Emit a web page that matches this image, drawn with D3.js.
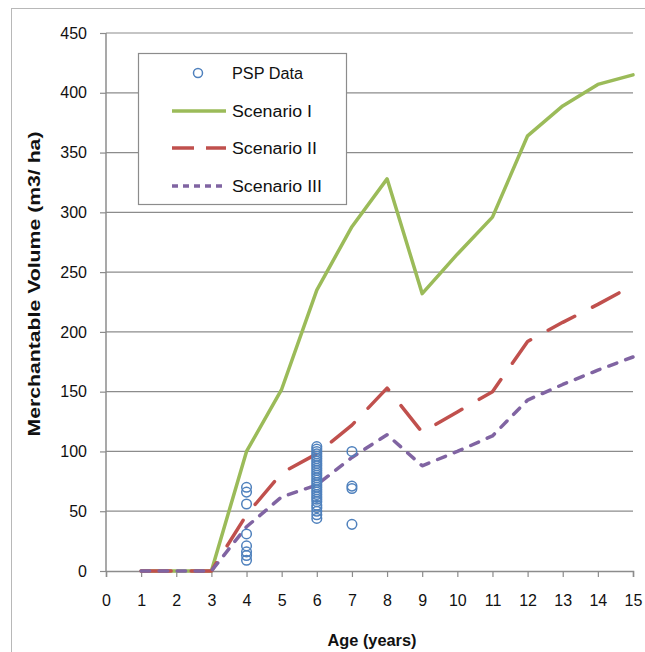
<!DOCTYPE html>
<html><head><meta charset="utf-8">
<script src="https://cdn.jsdelivr.net/npm/d3@7"></script>
<style>body{margin:0;background:#fff}svg{display:block}text{font-family:"Liberation Sans",Arial,sans-serif}</style>
</head><body>
<svg id="c" width="645" height="652"></svg>
<script>
const ages = [1,2,3,4,5,6,7,8,9,10,11,12,13,14,15];
const scenarioI   = [0,0,0,100,152,235,288,328,232,265,296,364,389,407,415];
const scenarioII  = [0,0,0,47,82,98,122,153,116,133,150,192,208,223,239];
const scenarioIII = [0,0,0,37,62,72,95,114,88,100,113,143,156,168,179];
const pspAge4 = [70,66,56,31,21,16,13,9];
const pspAge6 = [104,102,100,98,96,94,92,90,88,86,84,82,80,78,76,74,72,70,68,66,64,62,60,58,55,53,50,47,44];
const pspAge7 = [100,71,69,39];
const xTicks = d3.range(0,16);
const yTicks = d3.range(0,451,50);
const seriesNames = ["PSP Data","Scenario I","Scenario II","Scenario III"];

const svg = d3.select("#c");
const x = d3.scaleLinear().domain([0,15]).range([106,633]);
const y = d3.scaleLinear().domain([0,450]).range([571,33]);

svg.append("rect").attr("x",11.5).attr("y",8.5).attr("width",640).attr("height",650)
  .attr("fill","none").attr("stroke","#b8b8b8").attr("stroke-width",1);

// gridlines
svg.append("g").selectAll("line").data(yTicks.filter(d=>d>0)).join("line")
  .attr("x1",x(0)).attr("x2",x(15)).attr("y1",d=>y(d)).attr("y2",d=>y(d))
  .attr("stroke","#8c8c8c").attr("stroke-width",1.2);

// axes
const yAxis = svg.append("g").attr("transform",`translate(${x(0)},0)`)
  .call(d3.axisLeft(y).tickValues(yTicks).tickSize(6).tickPadding(13));
const xAxis = svg.append("g").attr("transform",`translate(0,${y(0)})`)
  .call(d3.axisBottom(x).tickValues(xTicks).tickSize(6).tickPadding(18));
[yAxis,xAxis].forEach(a=>{
  a.select(".domain").attr("stroke","#8c8c8c").attr("stroke-width",1.5);
  a.selectAll(".tick line").attr("stroke","#8c8c8c").attr("stroke-width",1.2);
  a.selectAll("text").attr("font-size",16).attr("fill","#111")
    .attr("font-family","'Liberation Sans',Arial,sans-serif");
});
yAxis.select(".domain").attr("d",`M0,${y(450)}V${y(0)}`);
yAxis.selectAll(".tick line").attr("x1",0).attr("x2",-6);

// titles
svg.append("text").attr("transform","translate(40,284) rotate(-90)")
  .attr("text-anchor","middle").attr("font-size",17).attr("font-weight","bold")
  .attr("textLength",305).attr("lengthAdjust","spacingAndGlyphs")
  .attr("fill","#111").text("Merchantable Volume (m3/ ha)");
svg.append("text").attr("x",372).attr("y",646).attr("text-anchor","middle")
  .attr("font-size",16).attr("font-weight","bold")
  .attr("textLength",89).attr("lengthAdjust","spacingAndGlyphs")
  .attr("fill","#111").text("Age (years)");

const styles = [
  {color:"#4f81bd"},
  {color:"#9bbb59", dash:null, data:scenarioI},
  {color:"#c0504d", dash:"30,20", data:scenarioII},
  {color:"#8064a2", dash:"8.5,9.5", data:scenarioIII}
];
const line = d3.line().x((d,i)=>x(ages[i])).y(d=>y(d));
styles.slice(1).forEach(s=>{
  svg.append("path").datum(s.data).attr("d",line).attr("fill","none")
    .attr("stroke",s.color).attr("stroke-width",3.5)
    .attr("stroke-linecap","round").attr("stroke-linejoin","round")
    .attr("stroke-dasharray",s.dash);
});

// scatter
const psp = [].concat(pspAge4.map(v=>[4,v]),pspAge6.map(v=>[6,v]),pspAge7.map(v=>[7,v]));
svg.append("g").selectAll("circle").data(psp).join("circle")
  .attr("cx",d=>x(d[0])).attr("cy",d=>y(d[1])).attr("r",4.8)
  .attr("fill","none").attr("stroke","#4f81bd").attr("stroke-width",1.5);

// legend
const lg = svg.append("g");
lg.append("rect").attr("x",138.5).attr("y",53.5).attr("width",208).attr("height",151)
  .attr("fill","#fff").attr("stroke","#8c8c8c").attr("stroke-width",1.2);
const ly = [73,111,148,186];
const lw = [71,80,85,90];
seriesNames.forEach((n,i)=>{
  if(i===0){
    lg.append("circle").attr("cx",198).attr("cy",ly[i]).attr("r",4.5)
      .attr("fill","none").attr("stroke","#4f81bd").attr("stroke-width",1.5);
  } else {
    lg.append("line").attr("x1",172).attr("x2",226).attr("y1",ly[i]).attr("y2",ly[i])
      .attr("stroke",styles[i].color).attr("stroke-width",3.5)
      .attr("stroke-dasharray",i===2?"22,12":(i===3?"6,5":null));
  }
  lg.append("text").attr("x",232).attr("y",ly[i]+6).attr("font-size",16)
    .attr("textLength",lw[i]).attr("lengthAdjust","spacingAndGlyphs")
    .attr("fill","#111").text(n);
});
</script>
</body></html>
